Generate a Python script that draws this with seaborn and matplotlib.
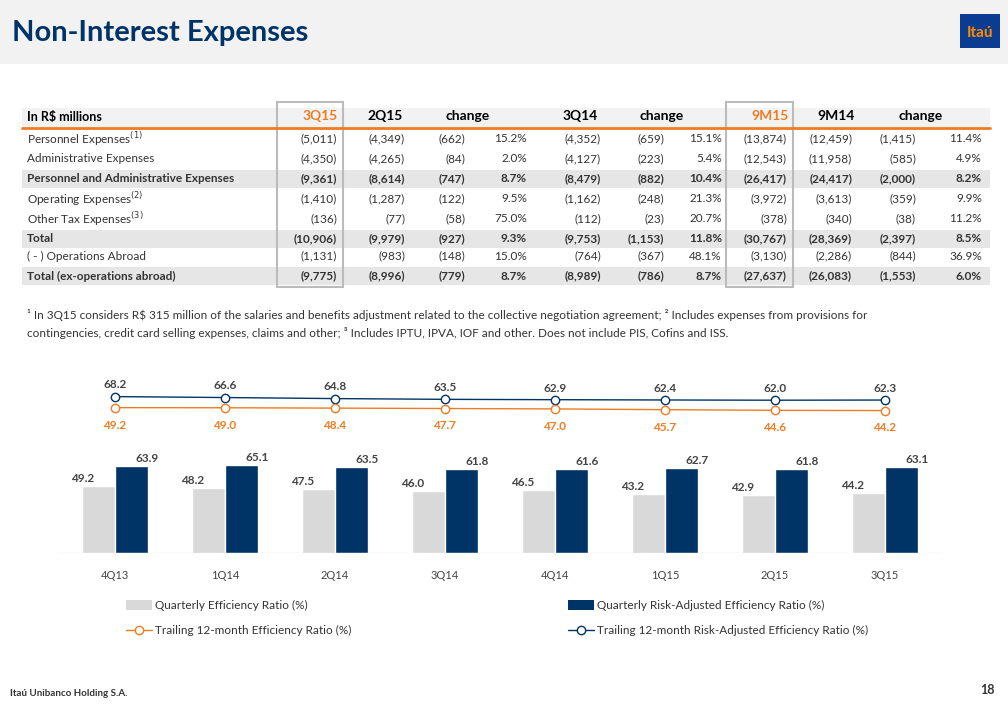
import numpy as np
import pandas as pd
import seaborn as sns
import matplotlib.pyplot as plt
from matplotlib.patches import Rectangle

sns.set_theme(style="white")
plt.rcParams['font.family'] = ['Lato', 'DejaVu Sans']

NAVY = "#003366"
ORANGE = "#F07B22"
GREY = "#D9D9D9"

# Table data
col_heads = ["3Q15", "2Q15", "change", "", "3Q14", "change", "", "9M15", "9M14", "change", ""]
row_labels = ["Personnel Expenses$^{(1)}$", "Administrative Expenses",
              "Personnel and Administrative Expenses", "Operating Expenses$^{(2)}$",
              "Other Tax Expenses$^{(3)}$", "Total", "( - ) Operations Abroad",
              "Total (ex-operations abroad)"]
row_bold = [False, False, True, False, False, True, False, True]
table_vals = [
    ["(5,011)", "(4,349)", "(662)", "15.2%", "(4,352)", "(659)", "15.1%", "(13,874)", "(12,459)", "(1,415)", "11.4%"],
    ["(4,350)", "(4,265)", "(84)", "2.0%", "(4,127)", "(223)", "5.4%", "(12,543)", "(11,958)", "(585)", "4.9%"],
    ["(9,361)", "(8,614)", "(747)", "8.7%", "(8,479)", "(882)", "10.4%", "(26,417)", "(24,417)", "(2,000)", "8.2%"],
    ["(1,410)", "(1,287)", "(122)", "9.5%", "(1,162)", "(248)", "21.3%", "(3,972)", "(3,613)", "(359)", "9.9%"],
    ["(136)", "(77)", "(58)", "75.0%", "(112)", "(23)", "20.7%", "(378)", "(340)", "(38)", "11.2%"],
    ["(10,906)", "(9,979)", "(927)", "9.3%", "(9,753)", "(1,153)", "11.8%", "(30,767)", "(28,369)", "(2,397)", "8.5%"],
    ["(1,131)", "(983)", "(148)", "15.0%", "(764)", "(367)", "48.1%", "(3,130)", "(2,286)", "(844)", "36.9%"],
    ["(9,775)", "(8,996)", "(779)", "8.7%", "(8,989)", "(786)", "8.7%", "(27,637)", "(26,083)", "(1,553)", "6.0%"],
]

# Chart data
quarters = ["4Q13", "1Q14", "2Q14", "3Q14", "4Q14", "1Q15", "2Q15", "3Q15"]
eff_q = [49.2, 48.2, 47.5, 46.0, 46.5, 43.2, 42.9, 44.2]
eff_risk_q = [63.9, 65.1, 63.5, 61.8, 61.6, 62.7, 61.8, 63.1]
eff_12m = [49.2, 49.0, 48.4, 47.7, 47.0, 45.7, 44.6, 44.2]
eff_risk_12m = [68.2, 66.6, 64.8, 63.5, 62.9, 62.4, 62.0, 62.3]

W, H = 1008, 706
fig = plt.figure(figsize=(W / 100, H / 100), dpi=100)

def px(x, y):
    return x / W, 1 - y / H

def txt(x, y, s, **kw):
    fx, fy = px(x, y)
    fig.text(fx, fy, s, va="center", **kw)

def rect(x0, y0, x1, y1, **kw):
    fx, fy = px(x0, y1)
    fig.add_artist(Rectangle((fx, fy), (x1 - x0) / W, (y1 - y0) / H,
                             transform=fig.transFigure, **kw))

# Title bar
rect(0, 0, W, 64, facecolor="#F2F2F2", edgecolor="none")
txt(12, 33, "Non-Interest Expenses", fontsize=21, fontweight="bold", color=NAVY)
rect(960, 14, 1000, 48, facecolor="#0A3D91", edgecolor="none")
txt(980, 33, "Itaú", fontsize=11, fontweight="bold", color="#FF8C00", ha="center")

# Table
col_x = [337, 405, 465, 527, 601, 664, 722, 787, 852, 916, 982]
head_x = [320, 385, 468, None, 580, 662, None, 770, 836, 921, None]
row_y = [139, 159, 179, 199, 219, 239, 256, 276]

rect(22, 108, 990, 127, facecolor="#F2F2F2", edgecolor="none")
txt(27, 117, "In R$ millions", fontsize=9, fontweight="bold", color="black")
for h, hx in zip(col_heads, head_x):
    if hx is None:
        continue
    color = ORANGE if h in ("3Q15", "9M15") else "black"
    txt(hx, 116, h, fontsize=10, fontweight="bold", color=color, ha="center")
fig.add_artist(plt.Line2D([22 / W, 990 / W], [1 - 128 / H] * 2, color=ORANGE, lw=2,
                          transform=fig.transFigure))

for i, (lab, bold, vals) in enumerate(zip(row_labels, row_bold, table_vals)):
    y = row_y[i]
    if bold:
        rect(22, y - 9, 990, y + 9, facecolor="#E6E6E6", edgecolor="none")
    fw = "bold" if bold else "normal"
    txt(27, y, lab, fontsize=8.5, fontweight=fw, color="#333333")
    for v, cx in zip(vals, col_x):
        txt(cx, y, v, fontsize=8.5, fontweight=fw, color="#333333", ha="right")

rect(277, 102, 343, 287, facecolor="none", edgecolor="#BBBBBB", lw=1.5)
rect(726, 102, 793, 287, facecolor="none", edgecolor="#BBBBBB", lw=1.5)

txt(27, 315, "¹ In 3Q15 considers R$ 315 million of the salaries and benefits adjustment related to the collective negotiation agreement; ² Includes expenses from provisions for",
    fontsize=8.5, color="#333333")
txt(27, 333, "contingencies, credit card selling expenses, claims and other; ³ Includes IPTU, IPVA, IOF and other. Does not include PIS, Cofins and ISS.",
    fontsize=8.5, color="#333333")

# Chart
ax = fig.add_axes([60 / W, 1 - 553 / H, 880 / W, 183 / H])
x = np.arange(len(quarters))
bw = 0.3
ax.bar(x - bw / 2, eff_q, width=bw, color=GREY)
ax.bar(x + bw / 2, eff_risk_q, width=bw, color=NAVY)
for xi, a, b in zip(x, eff_q, eff_risk_q):
    ax.text(xi - bw / 2 - 0.04, a + 3, f"{a:.1f}", ha="right", fontsize=8.5, fontweight="bold", color="#444444")
    ax.text(xi + bw / 2 + 0.04, b + 3, f"{b:.1f}", ha="left", fontsize=8.5, fontweight="bold", color="#444444")
ax.set_ylim(0, 135)
ax.set_xlim(-0.5, len(quarters) - 0.5)
ax.set_yticks([])
ax.set_xticks(x)
ax.set_xticklabels(quarters, fontsize=8, color="#444444")
ax.tick_params(axis="x", length=0, pad=12)
sns.despine(ax=ax, left=True, top=True, right=True, bottom=True)
ax.axhline(0, color="#BBBBBB", lw=0.8)

ax2 = ax.twinx()
ax2.plot(x, eff_risk_12m, color=NAVY, marker="o", mfc="white", ms=6, lw=1)
ax2.plot(x, eff_12m, color=ORANGE, marker="o", mfc="white", ms=6, lw=1)
for xi, a, b in zip(x, eff_risk_12m, eff_12m):
    ax2.text(xi, a + 14, f"{a:.1f}", ha="center", fontsize=8.5, fontweight="bold", color="#444444")
    ax2.text(xi, b - 36, f"{b:.1f}", ha="center", fontsize=8.5, fontweight="bold", color=ORANGE)
ax2.set_ylim(-201, 114)
ax2.set_yticks([])
sns.despine(ax=ax2, left=True, top=True, right=True, bottom=True)

# Legend
rect(126, 600, 152, 610, facecolor=GREY, edgecolor="none")
txt(155, 605, "Quarterly Efficiency Ratio (%)", fontsize=8.5, color="#333333")
rect(568, 600, 594, 610, facecolor=NAVY, edgecolor="none")
txt(597, 605, "Quarterly Risk-Adjusted Efficiency Ratio (%)", fontsize=8.5, color="#333333")
for lx, c, s in [(126, ORANGE, "Trailing 12-month Efficiency Ratio (%)"),
                 (568, NAVY, "Trailing 12-month Risk-Adjusted Efficiency Ratio (%)")]:
    fig.add_artist(plt.Line2D([lx / W, (lx + 13) / W, (lx + 26) / W], [1 - 630 / H] * 3,
                              color=c, lw=1, marker="o", markevery=[1], mfc="white", ms=6,
                              transform=fig.transFigure))
    txt(lx + 29, 630, s, fontsize=8.5, color="#333333")

txt(10, 693, "Itaú Unibanco Holding S.A.", fontsize=7, fontweight="bold", color="#333333")
txt(995, 690, "18", fontsize=9, fontweight="bold", color="#333333", ha="right")

fig.savefig("out.png", dpi=100)
